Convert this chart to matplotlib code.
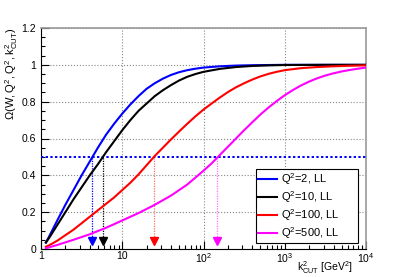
import numpy as np
import matplotlib
matplotlib.use('Agg')
import matplotlib.pyplot as plt

# === DATA ===
# k2_cut positions are given as log10 values
blue_logk = [0.06, 0.1, 0.2, 0.3, 0.4, 0.5, 0.6, 0.7, 0.8, 0.9, 1.0, 1.1, 1.2, 1.3,
             1.4, 1.5, 1.6, 1.7, 1.8, 1.9, 2.0, 2.2, 2.4, 2.6, 2.8, 3.0, 3.5, 4.0]
blue_omega = [0.035, 0.068, 0.155, 0.24, 0.32, 0.40, 0.475, 0.55, 0.62, 0.68, 0.735, 0.785,
              0.83, 0.87, 0.90, 0.925, 0.945, 0.96, 0.971, 0.979, 0.985, 0.992, 0.996,
              0.998, 0.999, 1.0, 1.0, 1.0]

black_logk = [0.06, 0.1, 0.2, 0.3, 0.4, 0.5, 0.6, 0.7, 0.8, 0.9, 1.0, 1.1, 1.2, 1.3,
              1.4, 1.5, 1.6, 1.7, 1.8, 1.9, 2.0, 2.2, 2.4, 2.6, 2.8, 3.0, 3.5, 4.0]
black_omega = [0.035, 0.06, 0.13, 0.20, 0.27, 0.335, 0.40, 0.46, 0.525, 0.585, 0.645, 0.70,
               0.75, 0.79, 0.83, 0.862, 0.89, 0.915, 0.935, 0.95, 0.962, 0.978, 0.988,
               0.994, 0.997, 0.999, 1.0, 1.0]

red_logk = [0.06, 0.1, 0.2, 0.3, 0.4, 0.5, 0.6, 0.7, 0.8, 0.9, 1.0, 1.1, 1.2, 1.3, 1.4,
            1.5, 1.6, 1.7, 1.8, 1.9, 2.0, 2.1, 2.2, 2.3, 2.4, 2.5, 2.6, 2.7, 2.8, 2.9,
            3.0, 3.2, 3.4, 3.6, 3.8, 4.0]
red_omega = [0.012, 0.02, 0.045, 0.075, 0.105, 0.14, 0.175, 0.21, 0.245, 0.28, 0.32, 0.36,
             0.405, 0.455, 0.505, 0.55, 0.595, 0.638, 0.68, 0.72, 0.757, 0.79, 0.822,
             0.852, 0.878, 0.90, 0.92, 0.937, 0.951, 0.962, 0.971, 0.982, 0.988, 0.992,
             0.995, 0.997]

mag_logk = [0.06, 0.2, 0.4, 0.6, 0.8, 1.0, 1.2, 1.4, 1.6, 1.8, 2.0, 2.1, 2.2, 2.3, 2.4,
            2.5, 2.6, 2.7, 2.8, 2.9, 3.0, 3.1, 3.2, 3.3, 3.4, 3.5, 3.6, 3.7, 3.8, 3.9, 4.0]
mag_omega = [0.004, 0.022, 0.05, 0.08, 0.115, 0.155, 0.195, 0.24, 0.29, 0.35, 0.425, 0.465,
             0.51, 0.555, 0.60, 0.645, 0.688, 0.73, 0.768, 0.803, 0.835, 0.863, 0.888,
             0.909, 0.927, 0.942, 0.954, 0.964, 0.972, 0.979, 0.985]

legend_labels = [r'Q$^{2}$=2, LL', r'Q$^{2}$=10, LL', r'Q$^{2}$=100, LL', r'Q$^{2}$=500, LL']
colors = ['#0000ff', '#000000', '#ff0000', '#ff00ff']
vline_colors = ['#0000ff', '#000000', '#ff7070', '#ff70ff']

# k2 where Omega = 0.5
half_k2 = [4.3, 5.85, 24.5, 145.0]
half_level = 0.5

x_ticks = [1, 10, 100, 1000, 10000]
x_ticklabels = ['1', '10', r'$10^{2}$', r'$10^{3}$', r'$10^{4}$']
y_ticks = [0, 0.2, 0.4, 0.6, 0.8, 1.0, 1.2]
y_ticklabels = ['0', '0.2', '0.4', '0.6', '0.8', '1', '1.2']

# === STYLE ===
plt.rcParams['font.family'] = ['Liberation Sans', 'DejaVu Sans']
plt.rcParams['mathtext.fontset'] = 'custom'
plt.rcParams['mathtext.rm'] = 'Liberation Sans'
plt.rcParams['mathtext.it'] = 'Liberation Sans'
plt.rcParams['mathtext.bf'] = 'Liberation Sans:bold'

fig = plt.figure(figsize=(4.07, 2.77), dpi=100)
ax = fig.add_axes([41 / 407, 1 - 249 / 277, 325 / 407, 221 / 277])

curves = [(blue_logk, blue_omega), (black_logk, black_omega),
          (red_logk, red_omega), (mag_logk, mag_omega)]
for (lk, om), c, lab in zip(curves, colors, legend_labels):
    ax.plot(10 ** np.array(lk), om, color=c, lw=1.5, label=lab, zorder=4)

# horizontal line at 0.5
ax.axhline(half_level, color='#0000ff', lw=1.4, ls=(0, (1.2, 1.2)), zorder=3)

# drop lines and arrows
for xk, c in zip(half_k2, vline_colors):
    ax.vlines(xk, 0.055, half_level, color=c, lw=0.9, ls=(0, (1, 1)), zorder=3)
for xk, c in zip(half_k2, colors):
    ax.plot([xk], [0.045], marker='v', color=c, ms=5.5, mec=c, zorder=5)

ax.set_xscale('log')
ax.set_xlim(1, 1e4)
ax.set_ylim(0, 1.2)
ax.set_xticks(x_ticks)
ax.set_xticklabels(x_ticklabels)
ax.set_yticks(y_ticks)
ax.set_yticklabels(y_ticklabels)
ax.yaxis.set_minor_locator(matplotlib.ticker.MultipleLocator(0.05))
ax.xaxis.set_minor_locator(matplotlib.ticker.LogLocator(base=10, subs=np.arange(2, 10)))
ax.xaxis.set_minor_formatter(matplotlib.ticker.NullFormatter())

ax.tick_params(which='both', direction='in', labelsize=7.5, top=False, right=False)
ax.tick_params(which='major', length=6, width=0.8)
ax.tick_params(which='minor', length=3, width=0.8)
ax.tick_params(axis='x', pad=1.5)

ax.grid(True, which='major', color='#888888', ls=':', lw=0.8)

for s in ['top', 'right']:
    ax.spines[s].set_color('#999999')
    ax.spines[s].set_linewidth(1.2)

ax.set_ylabel(r'$\Omega(W,Q^{2},Q^{2},k^{2}_{CUT})$', loc='top', fontsize=8)
ax.yaxis.set_label_coords(-0.065, 1.0)
# x title sits in the bottom-right corner, just left of the 10^4 label
fig.text(353 / 407, 1.0 / 277, r'$k^{2}_{CUT}$ [GeV$^{2}$]', ha='right', va='bottom',
         fontsize=7.5)

leg = ax.legend(loc='lower left', bbox_to_anchor=(0.66, 0.027, 0.315, 0.312), mode='expand',
                fontsize=8, frameon=True, fancybox=False, edgecolor='black', framealpha=1,
                handlelength=1.7, borderpad=0.2, labelspacing=0.2, handletextpad=0.4,
                borderaxespad=0)
leg.get_frame().set_linewidth(0.8)

fig.savefig('out.png', dpi=100)
